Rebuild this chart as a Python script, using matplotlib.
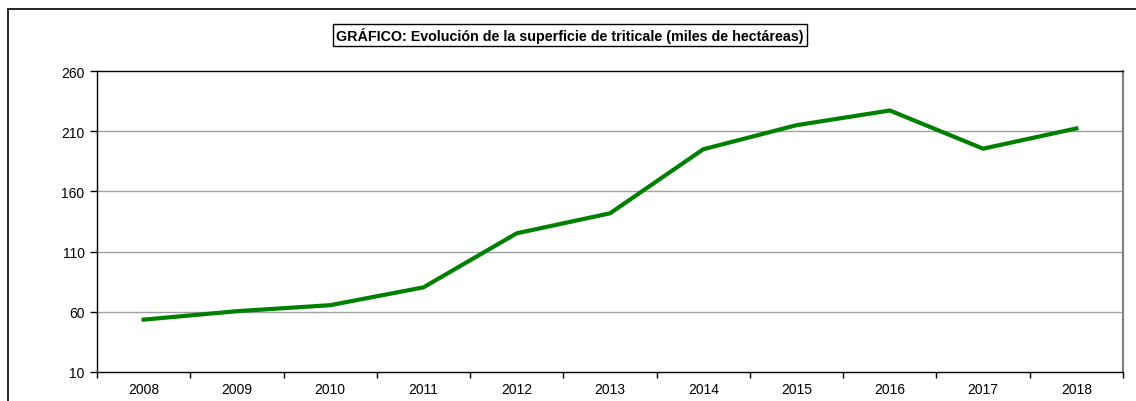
import matplotlib
matplotlib.use('Agg')
import matplotlib.pyplot as plt
from matplotlib.patches import Rectangle

# Data
years = ['2008', '2009', '2010', '2011', '2012', '2013', '2014', '2015', '2016', '2017', '2018']
superficie = [53.5, 60.5, 65.5, 80.3, 125.2, 141.8, 195.0, 215.0, 227.2, 195.5, 212.3]
yticks = [10, 60, 110, 160, 210, 260]

plt.rcParams['font.family'] = ['Liberation Sans', 'DejaVu Sans']

fig = plt.figure(figsize=(11.36, 4.02), dpi=100)
ax = fig.add_axes([97 / 1136, 1 - 373 / 402, (1123 - 97) / 1136, (373 - 72) / 402])

x = list(range(len(years)))
ax.plot(x, superficie, color='#008000', linewidth=3, solid_joinstyle='miter', zorder=3)

# Axes limits and ticks
ax.set_xlim(-0.5, len(years) - 0.5)
ax.set_ylim(10, 260)
ax.set_yticks(yticks)
ax.set_yticklabels([str(v) for v in yticks], fontsize=10)
ax.set_xticks([i + 0.5 for i in range(-1, len(years))])
ax.set_xticklabels([])
ax.set_xticks(x, minor=True)
ax.set_xticklabels(years, minor=True, fontsize=10)
ax.tick_params(axis='x', which='major', length=4, width=1, direction='out')
ax.tick_params(axis='x', which='minor', length=0, pad=7)
ax.tick_params(axis='y', length=5, width=1, direction='out', pad=4)

# Grid
for v in yticks[1:-1]:
    ax.axhline(v, color='#a0a0a0', linewidth=1, zorder=1)

for s in ['left', 'bottom', 'top']:
    ax.spines[s].set_color('black')
    ax.spines[s].set_linewidth(1)
ax.spines['right'].set_color('#808080')
ax.spines['right'].set_linewidth(1.5)

# Title with box
fig.text(570 / 1136, 1 - 36 / 402,
         'GRÁFICO: Evolución de la superficie de triticale (miles de hectáreas)',
         ha='center', va='center', fontsize=10.3, fontweight='bold',
         bbox=dict(boxstyle='square,pad=0.2', facecolor='white', edgecolor='black', linewidth=1))

# Outer chart border
border = Rectangle((8 / 1136, -0.1), 1.2, 1 - 10 / 402 + 0.1, transform=fig.transFigure,
                   fill=False, edgecolor='black', linewidth=1.2, clip_on=False)
fig.patches.append(border)

fig.savefig('out.png', dpi=100)
